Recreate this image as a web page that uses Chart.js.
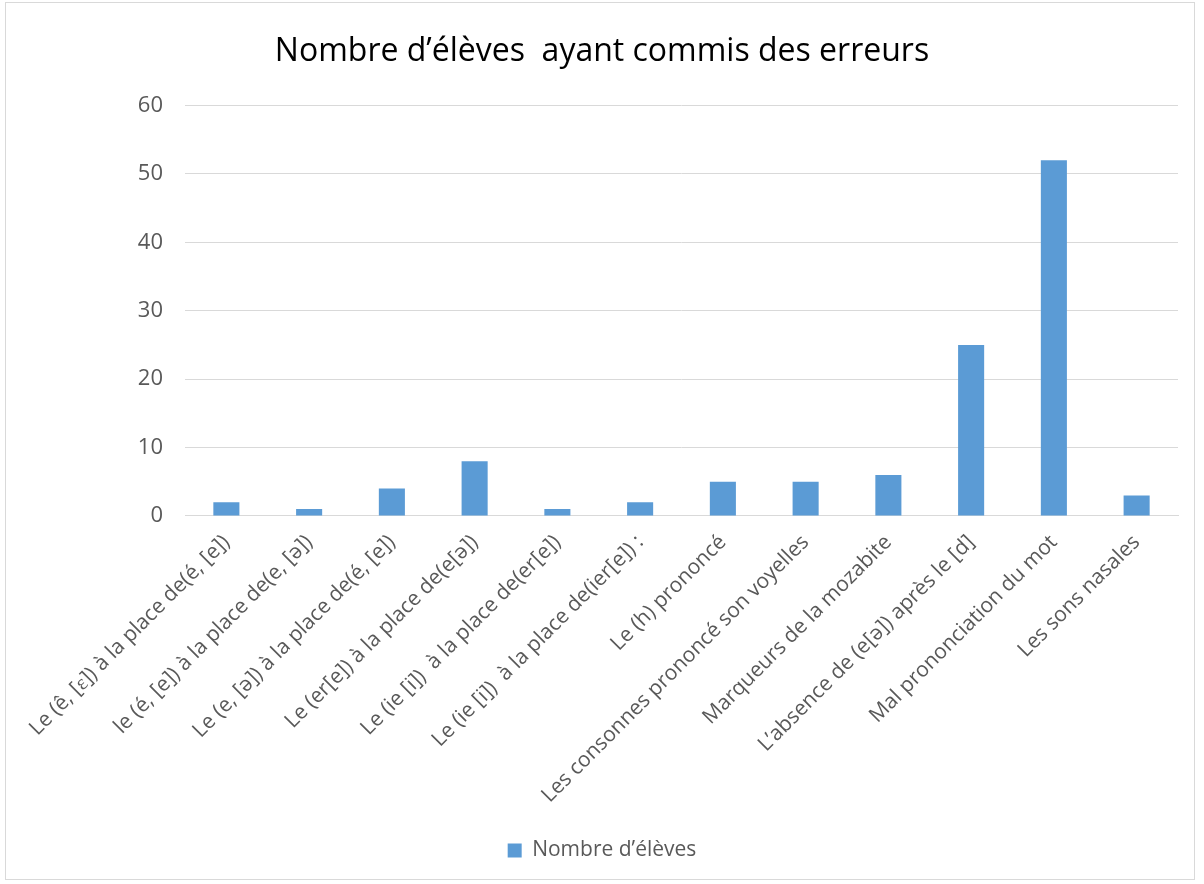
<!DOCTYPE html>
<html>
<head>
<meta charset="utf-8">
<script src="https://cdn.jsdelivr.net/npm/chart.js@4/dist/chart.umd.min.js"></script>
<style>
  body { margin: 0; background: #fff; }
  .frame { position: absolute; left: 5px; top: 2px; width: 1190px; height: 878px; border: 1px solid #d9d9d9; box-sizing: border-box; }
  canvas { position: absolute; left: 0; top: 0; }
</style>
</head>
<body>
<div class="frame"></div>
<canvas id="chart" width="1204" height="884"></canvas>
<script>
const categories = [
  'Le (ê, [ɛ]) à la place de(é, [e])',
  'le (é, [e]) à la place de(e, [ə])',
  'Le (e, [ə]) à la place de(é, [e])',
  'Le (er[e]) à la place de(e[ə])',
  'Le (ie [i])  à la place de(er[e])',
  'Le (ie [i])  à la place de(ier[e]) :',
  'Le (h) prononcé',
  'Les consonnes prononcé son voyelles',
  'Marqueurs de la mozabite',
  'L’absence de (e[ə]) après le [d]',
  'Mal prononciation du mot',
  'Les sons nasales'
]
const eleves = [2, 1, 4, 8, 1, 2, 5, 5, 6, 25, 52, 3]
const yTicks = [0, 10, 20, 30, 40, 50, 60]

const ctx = document.getElementById('chart')
new Chart(ctx, {
  type: 'bar',
  data: {
    labels: categories,
    datasets: [{
      label: 'Nombre d’élèves',
      data: eleves,
      backgroundColor: '#5b9bd5',
      borderWidth: 0,
      categoryPercentage: 1,
      barPercentage: 0.315
    }]
  },
  options: {
    responsive: false,
    animation: false,
    layout: { padding: { left: 26, right: 26, top: 33, bottom: 13 } },
    plugins: {
      title: {
        display: true,
        text: 'Nombre d’élèves  ayant commis des erreurs',
        color: '#000',
        font: { family: 'Open Sans', size: 32, weight: 'normal' },
        padding: { top: 0, bottom: 34 }
      },
      legend: {
        position: 'bottom',
        labels: {
          color: '#595959',
          font: { family: 'Open Sans', size: 21 },
          boxWidth: 14,
          boxHeight: 14,
          padding: 26
        }
      },
      tooltip: { enabled: false }
    },
    scales: {
      x: {
        grid: { display: false },
        border: { color: '#d9d9d9' },
        ticks: {
          color: '#595959',
          font: { family: 'Open Sans', size: 21 },
          minRotation: 45,
          maxRotation: 45,
          autoSkip: false,
          padding: 6
        }
      },
      y: {
        min: 0,
        max: 60,
        afterBuildTicks: axis => { axis.ticks = yTicks.map(v => ({ value: v })) },
        afterFit: axis => { axis.width = 159 },
        grid: { color: '#d9d9d9', drawTicks: false },
        border: { display: false },
        ticks: {
          color: '#595959',
          font: { family: 'Open Sans', size: 22 },
          padding: 22
        }
      }
    }
  }
})
</script>
</body>
</html>
